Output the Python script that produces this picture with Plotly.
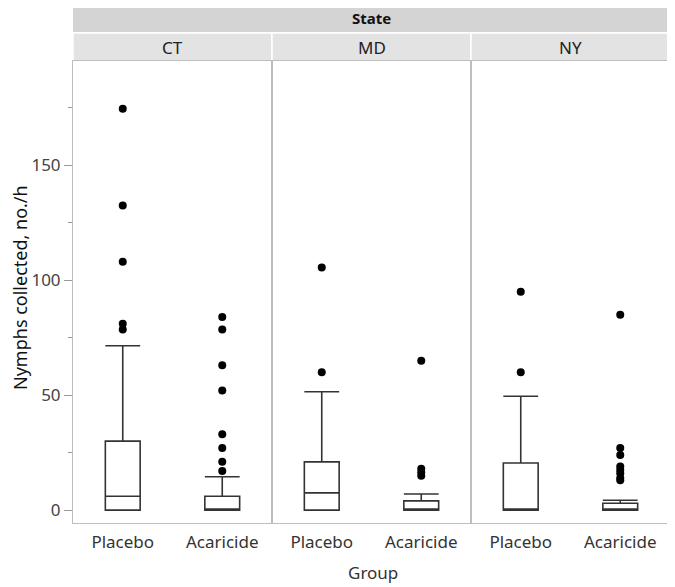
import plotly.graph_objects as go
from plotly.subplots import make_subplots

states = ["CT", "MD", "NY"]
groups = ["Placebo", "Acaricide"]

# box statistics per state: [Placebo, Acaricide]
q1 = {"CT": [0, 0], "MD": [0, 0], "NY": [0, 0]}
median = {"CT": [6, 0], "MD": [7.5, 0], "NY": [0, 0.5]}
q3 = {"CT": [30, 6], "MD": [21, 4], "NY": [20.5, 3]}
lower = {"CT": [0, 0], "MD": [0, 0], "NY": [0, 0]}
upper = {"CT": [71.5, 14.5], "MD": [51.5, 7], "NY": [49.5, 4.3]}

# outliers
out_placebo = {
    "CT": [174.5, 132.5, 108, 81, 78.5],
    "MD": [105.5, 60],
    "NY": [95, 60],
}
out_acaricide = {
    "CT": [84, 78.5, 63, 52, 33, 27, 21, 17],
    "MD": [65, 18, 16.5, 15],
    "NY": [85, 27, 24, 19, 17.5, 16, 14, 13],
}

yticks = [0, 50, 100, 150]

fig = make_subplots(rows=1, cols=3, shared_yaxes=True, horizontal_spacing=0)

line_col = "#333333"
for i, s in enumerate(states):
    fig.add_trace(go.Box(
        x=groups, q1=q1[s], median=median[s], q3=q3[s],
        lowerfence=lower[s], upperfence=upper[s],
        boxpoints=False, whiskerwidth=1,
        fillcolor="white", line=dict(color=line_col, width=1.6),
        showlegend=False, hoverinfo="skip",
    ), row=1, col=i + 1)
    ox = ["Placebo"] * len(out_placebo[s]) + ["Acaricide"] * len(out_acaricide[s])
    oy = out_placebo[s] + out_acaricide[s]
    fig.add_trace(go.Scatter(
        x=ox, y=oy, mode="markers",
        marker=dict(color="black", size=8),
        showlegend=False, hoverinfo="skip",
    ), row=1, col=i + 1)

font_fam = "Noto Sans"
frame_col = "#bdbdbd"
for i in range(3):
    fig.update_xaxes(
        type="category", categoryorder="array", categoryarray=groups,
        range=[-0.5, 1.5], showline=True, mirror=True, linecolor=frame_col,
        linewidth=1, showgrid=False, zeroline=False,
        ticks="outside", ticklen=4, tickcolor="rgba(0,0,0,0)",
        tickfont=dict(family=font_fam, size=17, color="#333333"),
        row=1, col=i + 1)
    fig.update_yaxes(
        range=[-5.6, 195.3], showline=True, mirror=True, linecolor=frame_col,
        linewidth=1, showgrid=False, zeroline=False,
        row=1, col=i + 1)

fig.update_yaxes(
    tickvals=yticks, ticks="outside", ticklen=8, tickcolor="#999999",
    tickfont=dict(family=font_fam, size=17, color="#444444"),
    minor=dict(dtick=25, tick0=0, ticks="outside", ticklen=4, tickcolor="#999999"),
    row=1, col=1)
for c in (2, 3):
    fig.update_yaxes(showticklabels=False, ticks="", row=1, col=c)

fig.update_layout(boxgap=0.5)

# header bands (pixel positions of the page -> paper coords)
H = 462.0
def py(p):
    return (523 - p) / H

shapes = [
    dict(type="rect", xref="paper", yref="paper", x0=0, x1=1,
         y0=py(32), y1=py(4), fillcolor="#d4d4d4", line=dict(width=0), layer="below"),
]
for i in range(3):
    shapes.append(dict(type="rect", xref="paper", yref="paper", x0=i / 3, x1=(i + 1) / 3,
                       y0=1.0, y1=py(33), fillcolor="#e3e3e3",
                       line=dict(color="white", width=1.5), layer="below"))
fig.update_layout(shapes=shapes)

ann = [
    dict(text="<b>State</b>", x=0.5, y=py(18), xref="paper", yref="paper",
         xanchor="center", yanchor="middle",
         showarrow=False, font=dict(family=font_fam, size=15, color="#111111")),
    dict(text="Nymphs collected, no./h", x=(20 - 73) / 597, y=py(288), xref="paper", yref="paper",
         xanchor="center", yanchor="middle",
         textangle=-90, showarrow=False, font=dict(family=font_fam, size=18, color="#111111")),
    dict(text="Group", x=(373 - 73) / 597, y=py(572), xref="paper", yref="paper",
         xanchor="center", yanchor="middle",
         showarrow=False, font=dict(family=font_fam, size=17, color="#333333")),
]
for i, s in enumerate(states):
    ann.append(dict(text=s, x=(i + 0.5) / 3, y=py(47), xref="paper", yref="paper",
                    xanchor="center", yanchor="middle",
                    showarrow=False, font=dict(family=font_fam, size=17, color="#222222")))
fig.update_layout(annotations=ann)

# page body has an 8px margin, so the figure is 8px smaller and shifted
fig.update_layout(
    width=667, height=579,
    margin=dict(l=65, r=5, t=53, b=64),
    paper_bgcolor="white", plot_bgcolor="white",
    font=dict(family=font_fam),
)

fig.write_html("out.html")
